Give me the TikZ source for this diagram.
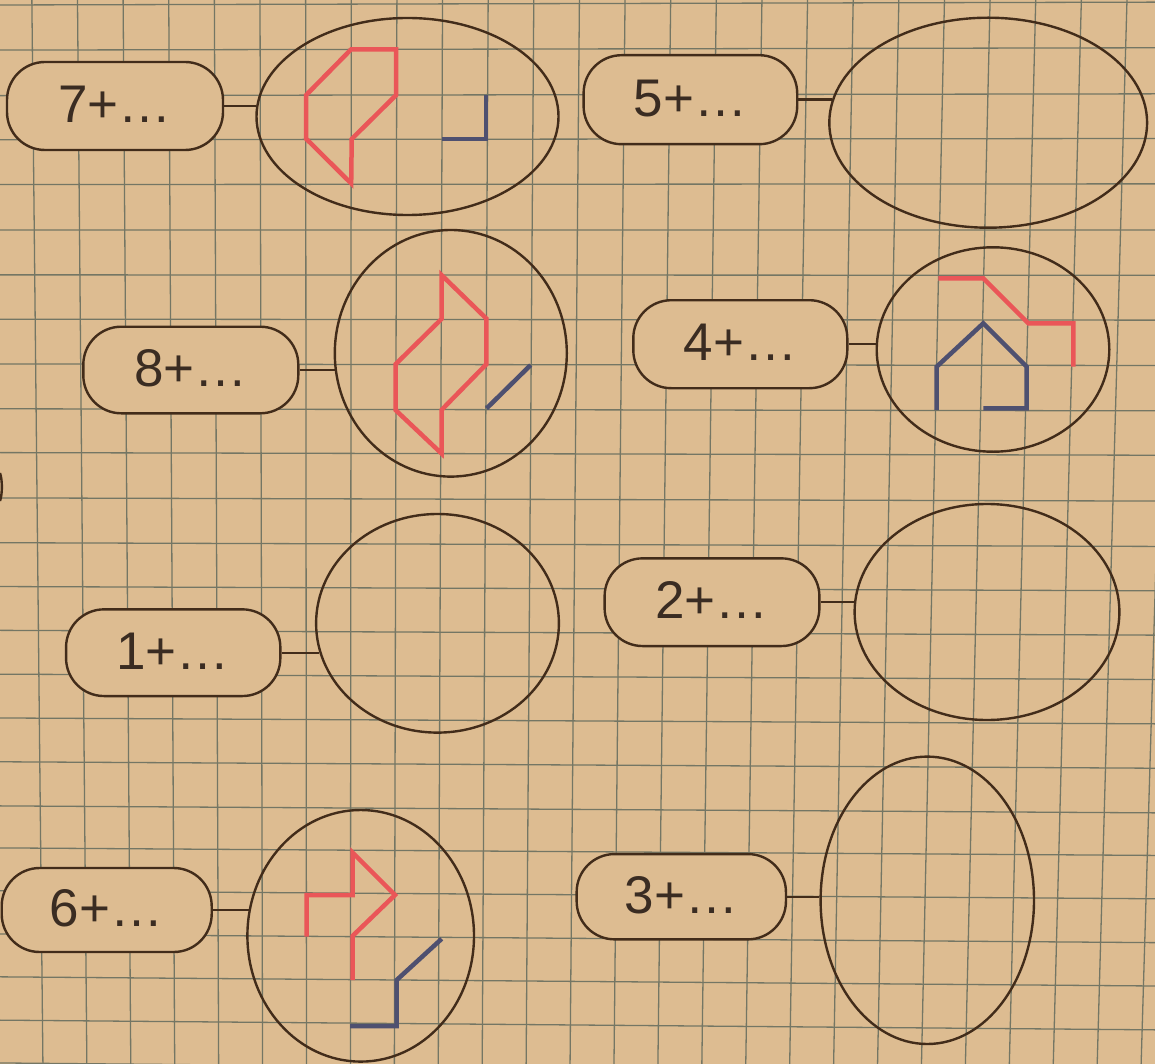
\documentclass[tikz,border=0pt]{standalone}
\usepackage{fontspec}
\setmainfont{Liberation Sans}
\usetikzlibrary{shapes.geometric}
\definecolor{paper}{RGB}{221,188,145}
\definecolor{gridc}{RGB}{116,118,100}
\definecolor{ink}{RGB}{66,44,26}
\definecolor{redc}{RGB}{234,86,88}
\definecolor{bluec}{RGB}{78,80,112}
\definecolor{txt}{RGB}{58,44,34}
\newcommand\pillfont{\fontsize{53}{60}\selectfont}
\begin{document}
\begin{tikzpicture}[x=1pt,y=-1pt,
  gridline/.style={draw=gridc, line width=1.3pt},
  pill/.style={draw=ink, line width=2.4pt, fill=paper, rounded corners=38pt, inner sep=0pt, text=txt, font=\pillfont, text height=39pt, text depth=6pt},
  ring/.style={ellipse, draw=ink, line width=2.4pt, inner sep=0pt},
  conn/.style={draw=ink, line width=2.4pt},
  redpen/.style={draw=redc, line width=4.5pt, line join=miter},
  bluepen/.style={draw=bluec, line width=4.5pt, line join=miter}]
\useasboundingbox (0,0) rectangle (1155,1064);
\fill[paper] (0,0) rectangle (1155,1064);
% grid
\foreach \k in {-1,...,25} {
  \draw[gridline] ({35.5+45.07*\k+(\k-6.5)*0.576},-10) -- ({35.5+45.07*\k-(\k-6.5)*1.16},1075);
}
\foreach \r/\yy in {-1/4,0/49.3,1/95,2/139.3,3/184.3,4/230,5/275,6/319.5,7/364.5,8/409.5,9/453.5,10/499,11/544,12/588,13/632,14/676,15/720,16/764,17/808.3,18/850.5,19/893.5,20/937,21/980,22/1023.5,23/1066.5} {
  \draw[gridline] (-10,{\yy-410*(-0.002+0.00048*\r)}) -- (1165,{\yy+765*(-0.002+0.00048*\r)});
}
% ellipses
\node[ring, minimum width=302pt, minimum height=197pt] (e7) at (407.5,116.5) {};
\node[ring, minimum width=317.8pt, minimum height=210pt] (e5) at (988.2,122.7) {};
\node[ring, minimum width=232pt, minimum height=246.6pt] (e8) at (450.8,353.3) {};
\node[ring, minimum width=232.6pt, minimum height=204.4pt] (e4) at (993,349.5) {};
\node[ring, minimum width=242.8pt, minimum height=218.6pt] (e1) at (437.5,623.3) {};
\node[ring, minimum width=264.8pt, minimum height=216pt] (e2) at (987,612) {};
\node[ring, minimum width=226.6pt, minimum height=251.6pt] (e6) at (360.7,935.8) {};
\node[ring, minimum width=213.4pt, minimum height=287.4pt] (e3) at (927.3,900.3) {};
% pills
\node[pill, minimum width=216pt, minimum height=88pt] (p7) at (115,106) {7+…};
\node[pill, minimum width=213.6pt, minimum height=89pt] (p5) at (690.4,99.7) {5+…};
\node[pill, minimum width=215pt, minimum height=86.6pt] (p8) at (190.8,370) {8+…};
\node[pill, minimum width=214pt, minimum height=88pt] (p4) at (740.3,344.2) {4+…};
\node[pill, minimum width=214.3pt, minimum height=86.7pt] (p1) at (173.2,652.7) {1+…};
\node[pill, minimum width=214.8pt, minimum height=87.7pt] (p2) at (712,602.2) {2+…};
\node[pill, minimum width=210pt, minimum height=84pt] (p6) at (106.7,910) {6+…};
\node[pill, minimum width=209.3pt, minimum height=85.3pt] (p3) at (681.3,896.7) {3+…};
% connectors
\draw[conn] (p7.east) -- (p7.east -| e7.176);
\draw[conn] (p5.east) -- (p5.east -| e5.171.6);
\draw[conn] (p8.east) -- (p8.east -| e8.188.2);
\draw[conn] (p4.east) -- (p4.east -| e4.177.4);
\draw[conn] (p1.east) -- (p1.east -| e1.194.1);
\draw[conn] (p2.east) -- (p2.east -| e2.175.7);
\draw[conn] (p6.east) -- (p6.east -| e6.166.8);
\draw[conn] (p3.east) -- (p3.east -| e3.178);
% sliver of a mark at the left edge
\draw[conn] (0,473) .. controls (2.5,480) and (2.5,494) .. (0,501);
% figures in 7
\draw[redpen] (351.2,49.3) -- (396.2,49.3) -- (396.2,95) -- (351.7,139) -- (351.2,183.5) -- (306.2,138.8) -- (306.2,95) -- cycle;
\draw[bluepen] (486,95) -- (486,138.8) -- (441.5,138.8);
% figures in 8
\draw[redpen] (441.5,275) -- (441.5,319) -- (395.5,364.3) -- (395.5,410) -- (441.5,453.5) -- (441.5,410) -- (486.3,364.3) -- (486.3,318.5) -- cycle;
\draw[bluepen] (486.5,408.5) -- (530.7,365);
% figures in 4
\draw[redpen] (938.3,278.3) -- (983.3,278.3) -- (1028.3,323.3) -- (1073.3,323.3) -- (1073.3,366.7);
\draw[bluepen] (983.3,408.3) -- (1026.7,408.3) -- (1026.7,366.7) -- (983.3,323.3) -- (936.7,366.7) -- (936.7,410);
% figures in 6
\draw[redpen] (306.5,936.5) -- (306.5,895) -- (352.5,895) -- (352.5,852.5) -- (395,895) -- (352.5,936) -- (352.5,980);
\draw[bluepen] (350,1026) -- (396.7,1026) -- (396.7,980) -- (441.7,938.8);
\end{tikzpicture}
\end{document}
